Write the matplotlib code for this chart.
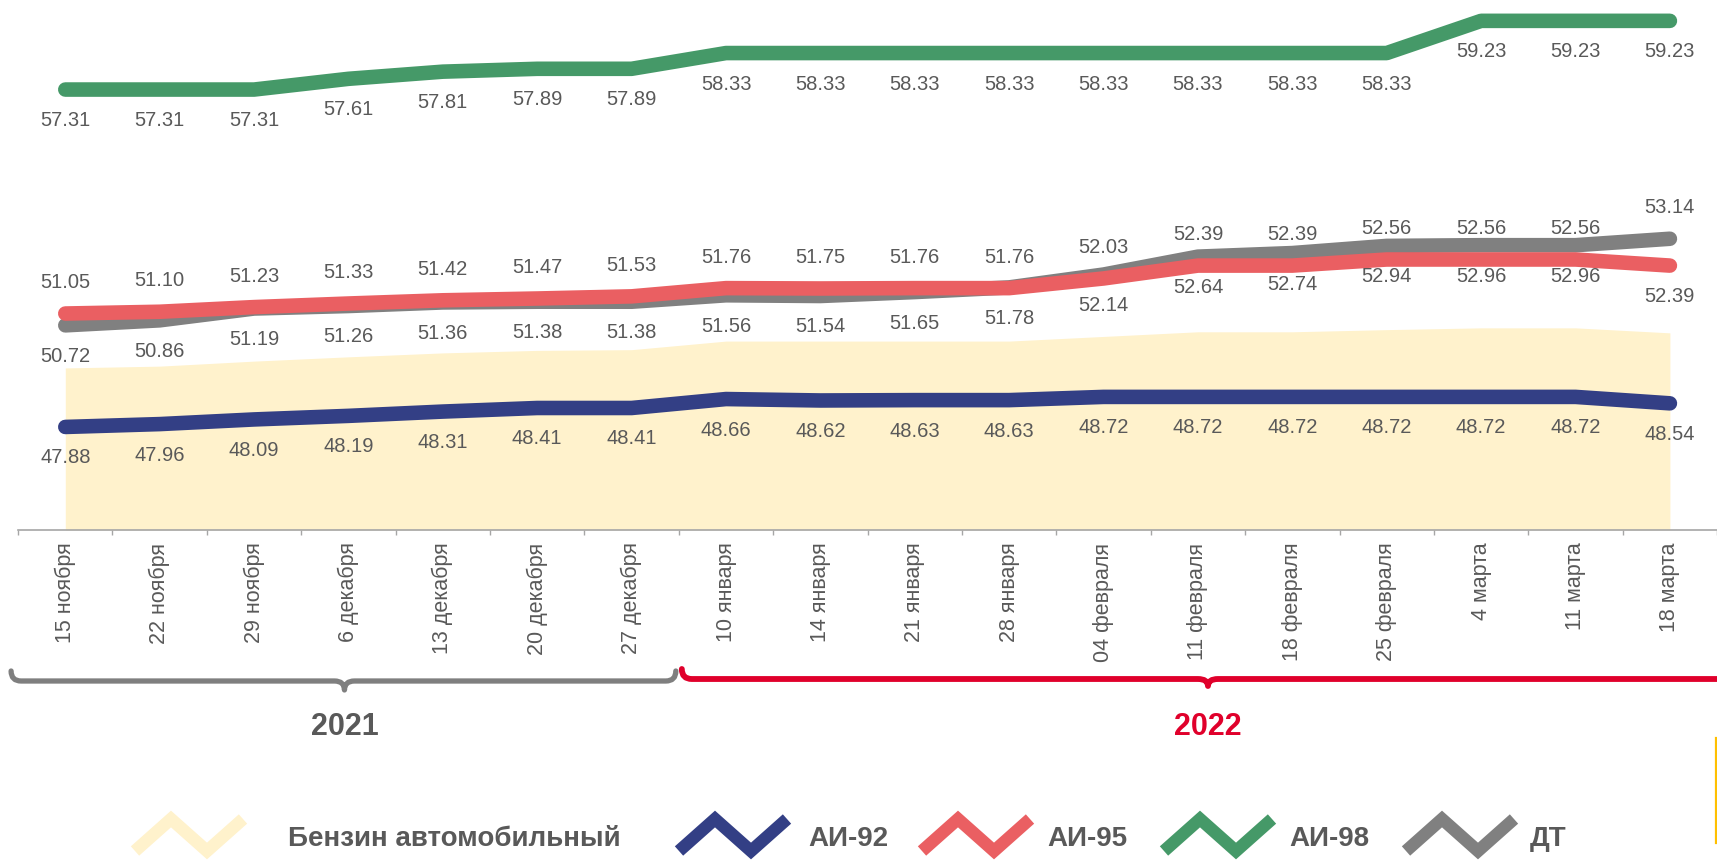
import numpy as np
import matplotlib
matplotlib.use('Agg')
import matplotlib.pyplot as plt
from matplotlib.path import Path
from matplotlib.patches import PathPatch

plt.rcParams['font.family'] = ['Liberation Sans', 'DejaVu Sans']

dates = ['15 ноября', '22 ноября', '29 ноября', '6 декабря', '13 декабря', '20 декабря',
         '27 декабря', '10 января', '14 января', '21 января', '28 января', '04 февраля',
         '11 февраля', '18 февраля', '25 февраля', '4 марта', '11 марта', '18 марта']
benzin = [49.53, 49.58, 49.72, 49.84, 49.95, 50.02, 50.04, 50.28, 50.28, 50.28, 50.28,
          50.41, 50.54, 50.54, 50.60, 50.65, 50.65, 50.51]
ai92 = [47.88, 47.96, 48.09, 48.19, 48.31, 48.41, 48.41, 48.66, 48.62, 48.63, 48.63,
        48.72, 48.72, 48.72, 48.72, 48.72, 48.72, 48.54]
ai95 = [51.05, 51.10, 51.23, 51.33, 51.42, 51.47, 51.53, 51.76, 51.75, 51.76, 51.76,
        52.03, 52.39, 52.39, 52.56, 52.56, 52.56, 52.39]
ai98 = [57.31, 57.31, 57.31, 57.61, 57.81, 57.89, 57.89, 58.33, 58.33, 58.33, 58.33,
        58.33, 58.33, 58.33, 58.33, 59.23, 59.23, 59.23]
dt = [50.72, 50.86, 51.19, 51.26, 51.36, 51.38, 51.38, 51.56, 51.54, 51.65, 51.78,
      52.14, 52.64, 52.74, 52.94, 52.96, 52.96, 53.14]

years = ['2021', '2022']
year_spans = [(-0.5, 6.5, 3), (6.5, 17.6, 12)]
year_colors = ['#7F7F7F', '#E0002B']
year_text_colors = ['#595959', '#E0002B']

legend_names = ['Бензин автомобильный', 'АИ-92', 'АИ-95', 'АИ-98', 'ДТ']
c_benzin = '#FFF2CC'
c_92 = '#333F85'
c_95 = '#EA5F62'
c_98 = '#459968'
c_dt = '#808080'
legend_colors = [c_benzin, c_92, c_95, c_98, c_dt]
txt = '#595959'

W, H = 1717, 861
fig = plt.figure(figsize=(W / 100, H / 100), dpi=100)
ax = fig.add_axes([18.1 / W, (H - 530) / H, 1699 / W, 530 / H])
x = np.arange(len(dates))
ax.set_xlim(-0.5, 17.5)
ax.set_ylim(45, 45 + 530 / 35.78)

ax.fill_between(x, 45, benzin, color=c_benzin, lw=0, zorder=1)
lw = 10.5
for vals, col, z in [(ai92, c_92, 3), (dt, c_dt, 3), (ai95, c_95, 4), (ai98, c_98, 5)]:
    ax.plot(x, vals, color=col, lw=lw, solid_capstyle='round', solid_joinstyle='round', zorder=z)

off = 22.3
def put(vals, signs):
    for i, v in enumerate(vals):
        ax.annotate(f'{v:.2f}', (i, v), xytext=(0, signs[i] * off), textcoords='offset points',
                    ha='center', va='center', fontsize=14.5, color=txt, zorder=6)

n = len(dates)
put(ai98, [-1] * n)
put(ai92, [-1] * n)
put(ai95, [1] * (n - 1) + [-1])
put(dt, [-1] * (n - 1) + [1])

for s in ['top', 'left', 'right']:
    ax.spines[s].set_visible(False)
ax.spines['bottom'].set_color('#A6A6A6')
ax.spines['bottom'].set_linewidth(1.2)
ax.set_yticks([])
ax.set_xticks(x)
ax.set_xticklabels(dates, rotation=90, fontsize=15.5, color=txt)
ax.set_xticks(np.arange(-0.5, 18, 1), minor=True)
ax.tick_params(axis='x', which='major', length=0, pad=9)
ax.tick_params(axis='x', which='minor', length=3.6, width=1, color='#A6A6A6')
ax.set_facecolor('none')

# overlay in pixel coords for braces and legend
ov = fig.add_axes([0, 0, 1, 1])
ov.set_xlim(0, W)
ov.set_ylim(H, 0)
ov.axis('off')
ov.patch.set_visible(False)

def px(v):
    return 18.1 + (v + 0.5) * 1699 / 18

def brace(x0, x1, xm, y, color, lwb, r=10, d=9):
    verts = [(x0, y - r), (x0, y), (x0 + r, y),
             (xm - r, y), (xm, y), (xm, y + d),
             (xm, y), (xm + r, y),
             (x1 - r, y), (x1, y), (x1, y - r)]
    codes = [Path.MOVETO, Path.CURVE3, Path.CURVE3,
             Path.LINETO, Path.CURVE3, Path.CURVE3,
             Path.CURVE3, Path.CURVE3,
             Path.LINETO, Path.CURVE3, Path.CURVE3]
    ov.add_patch(PathPatch(Path(verts, codes), fill=False, edgecolor=color, lw=lwb,
                           capstyle='round', joinstyle='round'))

mids = [px(year_spans[0][2]) - 4, px(year_spans[1][2]) + 10]
brace(px(-0.5) - 7, px(6.5) - 3, mids[0], 681, year_colors[0], 3.8)
brace(px(6.5) + 3, px(17.6), mids[1], 679, year_colors[1], 4.2, d=7)
for yr, m, col in zip(years, mids, year_text_colors):
    ov.text(m, 727, yr, ha='center', va='center', fontsize=22, fontweight='bold', color=col)

icon_x = [129, 673, 916, 1158, 1400]
text_x = [288, 808, 1047, 1289, 1530]
for name, col, ix, tx in zip(legend_names, legend_colors, icon_x, text_x):
    ov.plot([ix + 6, ix + 42, ix + 78, ix + 114], [851, 819, 851, 819], color=col, lw=9,
            solid_capstyle='butt', solid_joinstyle='miter')
    ov.text(tx, 839, name, ha='left', va='center', fontsize=20, fontweight='bold', color=txt)

ov.plot([1715.5, 1715.5], [738, 843], color='#FFC000', lw=1.6)

fig.savefig('out.png', dpi=100)
